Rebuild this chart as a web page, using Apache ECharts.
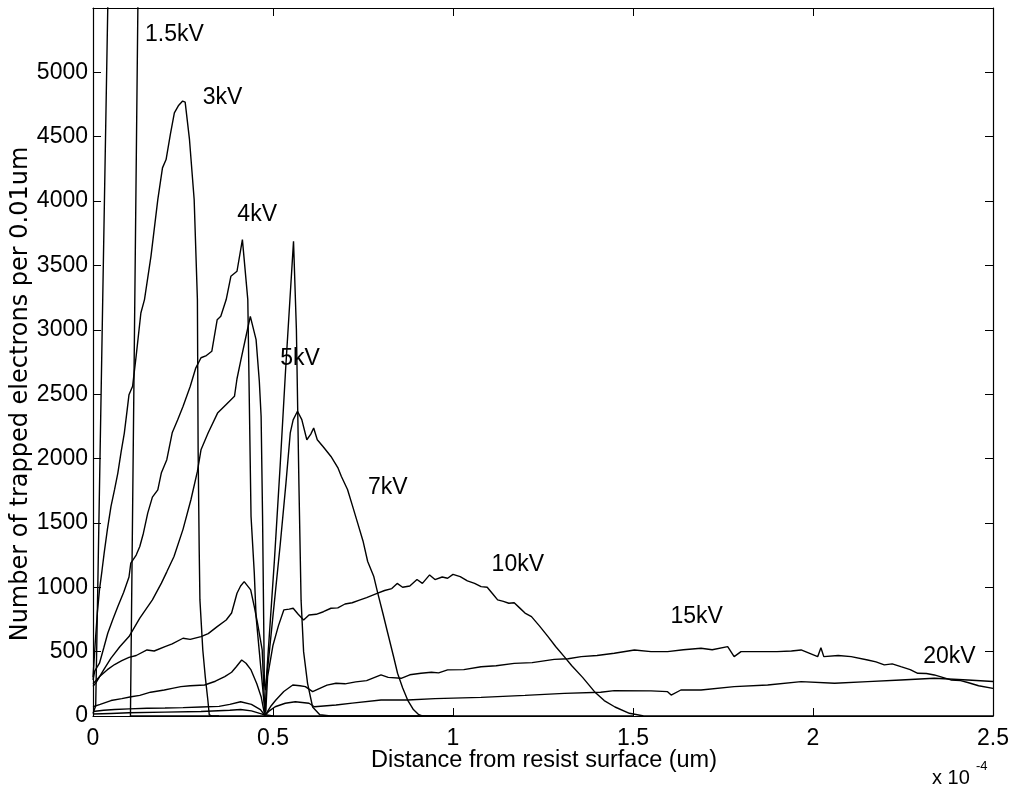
<!DOCTYPE html>
<html><head><meta charset="utf-8">
<script src="https://cdn.jsdelivr.net/npm/echarts@6/dist/echarts.min.js"></script>
<style>html,body{margin:0;padding:0;background:#fff}#c{width:1015px;height:794px}</style>
</head><body><div id="c"></div><script>
const FONT = "'Liberation Sans', Arial, Helvetica, sans-serif";

// x in units of 1e-4 um (axis shows x 10^-4), y = trapped electrons per 0.01um
const kv1_5 = [[0,20],[0.0075,80],[0.013,956],[0.027,3235],[0.041,5500],[0.06,8500],[0.09,9500],[0.125,5600],[0.104,0],[0.35,0]];
const kv3 = [[0,300],[0.006,560],[0.012,800],[0.018,980],[0.025,1130],[0.031,1265],[0.04,1450],[0.05,1628],[0.06,1760],[0.069,1887],[0.078,2050],[0.087,2198],[0.095,2380],[0.1,2496],[0.11,2561],[0.12,2800],[0.133,3131],[0.143,3235],[0.161,3571],[0.18,4012],[0.193,4258],[0.203,4323],[0.215,4520],[0.226,4686],[0.237,4740],[0.249,4777],[0.256,4769],[0.268,4479],[0.281,4012],[0.29,3235],[0.292,2068],[0.295,1291],[0.297,902],[0.305,513],[0.312,300],[0.319,124],[0.323,8],[0.33,0],[0.5,0]];
const kv4 = [[0,280],[0.005,350],[0.018,410],[0.03,530],[0.041,643],[0.055,750],[0.069,850],[0.085,960],[0.1,1080],[0.105,1187],[0.12,1250],[0.13,1317],[0.14,1420],[0.152,1576],[0.165,1700],[0.18,1757],[0.19,1890],[0.205,1991],[0.22,2200],[0.235,2300],[0.25,2405],[0.27,2560],[0.285,2700],[0.3,2783],[0.315,2800],[0.33,2833],[0.345,3079],[0.355,3105],[0.37,3235],[0.383,3416],[0.4,3455],[0.415,3701],[0.43,3235],[0.439,1550],[0.448,1112],[0.453,772],[0.471,228],[0.478,10],[0.5,0],[1.0,0]];
const kv5 = [[0,230],[0.008,257],[0.03,360],[0.05,450],[0.075,540],[0.1,617],[0.13,760],[0.165,902],[0.19,1032],[0.205,1120],[0.225,1239],[0.25,1450],[0.272,1680],[0.29,1900],[0.3,2068],[0.32,2200],[0.346,2353],[0.37,2420],[0.393,2483],[0.4,2620],[0.411,2768],[0.425,2950],[0.437,3105],[0.453,2924],[0.462,2600],[0.467,2327],[0.471,1550],[0.474,772],[0.476,254],[0.479,200],[0.482,306],[0.504,1213],[0.52,1950],[0.535,2690],[0.557,3688],[0.565,3000],[0.572,1800],[0.578,900],[0.585,500],[0.596,254],[0.61,70],[0.63,10],[0.66,0],[1.0,0]];
const kv7 = [[0,250],[0.004,254],[0.02,310],[0.04,360],[0.06,400],[0.08,430],[0.1,455],[0.12,470],[0.15,513],[0.17,505],[0.2,539],[0.22,560],[0.25,604],[0.27,595],[0.3,617],[0.32,640],[0.345,694],[0.37,746],[0.385,800],[0.4,954],[0.41,1010],[0.42,1044],[0.438,980],[0.448,850],[0.457,721],[0.47,513],[0.474,250],[0.477,80],[0.479,30],[0.481,254],[0.5,780],[0.52,1330],[0.536,1809],[0.548,2200],[0.556,2300],[0.568,2367],[0.58,2302],[0.594,2146],[0.605,2190],[0.613,2237],[0.623,2146],[0.64,2090],[0.661,2016],[0.68,1930],[0.69,1861],[0.707,1760],[0.72,1640],[0.735,1500],[0.75,1360],[0.763,1200],[0.78,1083],[0.791,954],[0.805,800],[0.819,641],[0.835,460],[0.846,332],[0.86,220],[0.874,124],[0.89,50],[0.905,10],[0.915,0],[1.5,0]];
const kv10 = [[0,72],[0.02,90],[0.05,120],[0.08,135],[0.106,150],[0.13,160],[0.16,185],[0.198,202],[0.22,215],[0.244,228],[0.27,235],[0.31,241],[0.34,270],[0.366,306],[0.385,340],[0.398,383],[0.413,435],[0.425,410],[0.439,358],[0.455,250],[0.467,150],[0.476,21],[0.48,40],[0.485,306],[0.5,550],[0.515,700],[0.53,824],[0.545,830],[0.556,837],[0.57,790],[0.585,746],[0.6,785],[0.62,790],[0.64,810],[0.661,837],[0.68,840],[0.7,870],[0.72,880],[0.74,900],[0.76,920],[0.791,954],[0.81,975],[0.83,990],[0.845,1030],[0.86,1000],[0.88,1010],[0.9,1060],[0.915,1030],[0.935,1096],[0.95,1060],[0.97,1080],[0.985,1070],[1.0,1100],[1.02,1083],[1.04,1050],[1.06,1030],[1.078,1005],[1.095,1000],[1.11,950],[1.124,902],[1.14,890],[1.155,876],[1.17,880],[1.185,840],[1.2,800],[1.218,772],[1.24,700],[1.264,617],[1.285,540],[1.309,461],[1.33,390],[1.36,300],[1.393,189],[1.42,120],[1.45,70],[1.49,21],[1.53,0],[2.5,0]];
const kv15 = [[0,35],[0.03,45],[0.06,50],[0.1,55],[0.15,60],[0.2,62],[0.25,65],[0.3,70],[0.35,75],[0.38,90],[0.41,111],[0.44,90],[0.465,50],[0.476,10],[0.482,23],[0.495,80],[0.508,124],[0.53,190],[0.555,241],[0.575,235],[0.59,228],[0.61,189],[0.63,215],[0.65,240],[0.675,254],[0.7,250],[0.73,265],[0.76,275],[0.8,319],[0.82,300],[0.856,293],[0.88,320],[0.911,332],[0.94,340],[0.96,335],[0.985,358],[1.03,360],[1.078,383],[1.12,390],[1.17,409],[1.22,415],[1.281,440],[1.32,445],[1.356,461],[1.4,470],[1.448,487],[1.504,513],[1.55,500],[1.596,500],[1.64,515],[1.689,526],[1.72,515],[1.763,539],[1.781,461],[1.8,500],[1.85,500],[1.9,500],[1.94,505],[1.967,513],[2.013,461],[2.022,530],[2.03,461],[2.07,470],[2.106,461],[2.152,435],[2.175,420],[2.198,397],[2.22,405],[2.244,383],[2.27,360],[2.291,332],[2.315,330],[2.337,319],[2.36,300],[2.383,280],[2.41,275],[2.43,260],[2.46,235],[2.5,215]];
const kv20 = [[0,15],[0.05,20],[0.1,25],[0.2,30],[0.3,35],[0.38,45],[0.41,50],[0.44,40],[0.47,15],[0.478,5],[0.49,40],[0.506,72],[0.534,99],[0.562,111],[0.6,99],[0.615,72],[0.675,85],[0.72,100],[0.8,124],[0.874,124],[0.95,135],[1.078,145],[1.2,160],[1.309,176],[1.41,185],[1.448,197],[1.55,195],[1.596,189],[1.606,163],[1.633,202],[1.689,202],[1.781,228],[1.874,241],[1.967,267],[2.06,254],[2.152,267],[2.244,280],[2.337,293],[2.43,280],[2.5,268]];

const curves = [kv1_5, kv3, kv4, kv5, kv7, kv10, kv15, kv20];
const curveNames = ['1.5kV','3kV','4kV','5kV','7kV','10kV','15kV','20kV'];
const labelX = [0.226, 0.36, 0.456, 0.575, 0.819, 1.18, 1.677, 2.379];
const labelY = [5295, 4800, 3896, 2776, 1770, 1174, 772, 461];

const xMin = 0, xMax = 2.5, xStep = 0.5;
const yMin = 0, yMax = 5500, yStep = 500;

const chart = echarts.init(document.getElementById('c'), null, {renderer:'canvas'});
const axisCommon = {
  type:'value', splitLine:{show:false},
  axisLine:{show:true, onZero:false, lineStyle:{color:'#000', width:1.2}},
  axisTick:{show:true, inside:true, length:8, lineStyle:{color:'#000', width:1}}
};
const series = curves.map((d,i)=>({
  type:'line', name:curveNames[i], data:d, showSymbol:false, symbol:'none',
  lineStyle:{color:'#000', width:1.4}, silent:true, clip:true, z:3
}));
series.push({
  type:'scatter', data: labelX.map((x,i)=>[x, labelY[i], curveNames[i]]),
  symbolSize:1, itemStyle:{color:'rgba(0,0,0,0)'}, silent:true, z:5,
  label:{show:true, position:'inside', formatter:p=>p.data[2], color:'#000', opacity:1, fontSize:23, fontFamily:FONT}
});
chart.setOption({
  animation:false, backgroundColor:'#fff',
  grid:{left:93, right:22, top:8, bottom:78, containLabel:false},
  xAxis:[
    Object.assign({}, axisCommon, {position:'bottom', min:xMin, max:xMax, interval:xStep,
      axisLabel:{color:'#000', fontSize:23, fontFamily:FONT, margin:11}}),
    Object.assign({}, axisCommon, {position:'top', min:xMin, max:xMax, interval:xStep, axisLabel:{show:false}})
  ],
  yAxis:[
    Object.assign({}, axisCommon, {position:'left', min:yMin, max:yMax, interval:yStep,
      axisLabel:{color:'#000', fontSize:23, fontFamily:FONT, margin:5, formatter:v=> v>=yMax ? '' : String(v)}}),
    Object.assign({}, axisCommon, {position:'right', min:yMin, max:yMax, interval:yStep, axisLabel:{show:false}})
  ],
  series: series,
  graphic:[
    {type:'text', x:21, y:394, rotation:Math.PI/2, silent:true,
     style:{text:'Number of trapped electrons per 0.01um', fill:'#000', font:"24px 'DejaVu Sans', sans-serif", textAlign:'center', textVerticalAlign:'middle'}},
    {type:'text', x:544, y:761, silent:true,
     style:{text:'Distance from resist surface (um)', fill:'#000', font:"23.5px 'Liberation Sans', Arial, sans-serif", textAlign:'center', textVerticalAlign:'middle'}},
    {type:'text', x:932, y:778, silent:true,
     style:{text:'x 10', fill:'#000', font:"20px 'Liberation Sans', Arial, sans-serif", textAlign:'left', textVerticalAlign:'middle'}},
    {type:'text', x:976, y:766, silent:true,
     style:{text:'-4', fill:'#000', font:"13px 'Liberation Sans', Arial, sans-serif", textAlign:'left', textVerticalAlign:'middle'}}
  ]
});
</script></body></html>
